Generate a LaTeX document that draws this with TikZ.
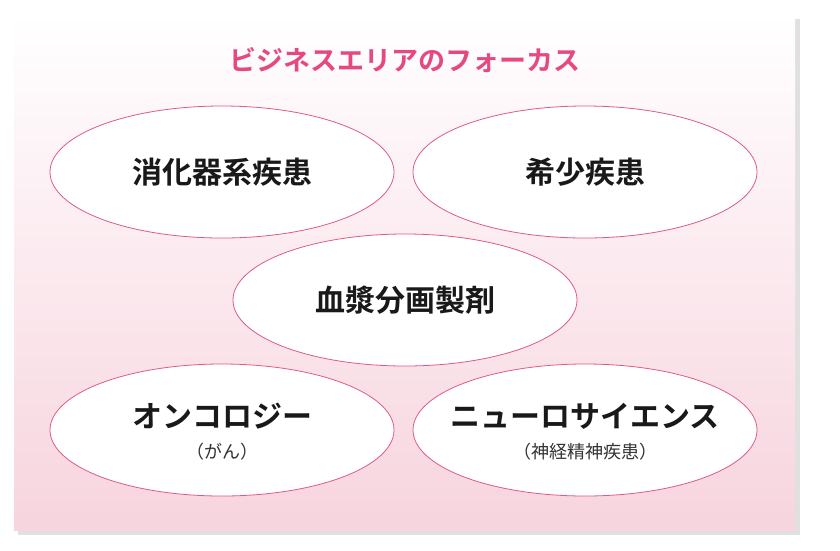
\documentclass[tikz,border=0pt]{standalone}
\usepackage{fontspec}
\newfontfamily\cjk{Noto Sans CJK JP}
\newfontfamily\cjkb{Noto Sans CJK JP Bold}
\usetikzlibrary{shapes.geometric,positioning}
\definecolor{rosa}{RGB}{230,72,130}
\definecolor{rosaline}{RGB}{222,90,140}
\definecolor{rosabg}{RGB}{247,212,222}
\tikzset{every picture/.style={line width=0.75pt},
  area/.style={ellipse,draw=rosaline,fill=white,line width=0.8pt,minimum width=344pt,minimum height=132pt,align=center,inner sep=0pt},
  main/.style={font=\cjkb\fontsize{30}{34}\selectfont,text=black!90},
  sub/.style={font=\cjk\fontsize{18}{22}\selectfont,text=black!80}}
\begin{document}
\begin{tikzpicture}[x=1pt,y=1pt,yscale=-1]
\useasboundingbox (0,0) rectangle (840,550);
% panel
\fill[black!12] (18,19) rectangle (800,535);
\shade[top color=white,bottom color=rosabg] (14,15) rectangle (795,530);
% title
\node[font=\cjkb\fontsize{27}{30}\selectfont,text=rosa] (title) at (405,60) {ビジネスエリアのフォーカス};
% areas
\node[area,main] (gastro) at (222,172) {消化器系疾患};
\node[area,main] (rare) at (585,172) {希少疾患};
\node[area,main] (plasma) at (405,300) {血漿分画製剤};
\node[area] (onco) at (222,430) {};
\node[area] (neuro) at (585,430) {};
\node[main] (oncot) at (222,416) {オンコロジー};
\node[sub] (oncos) at (222,452) {（がん）};
\node[main] (neurot) at (585,416) {ニューロサイエンス};
\node[sub] (neuros) at (585,452) {（神経精神疾患）};
\end{tikzpicture}
\end{document}
